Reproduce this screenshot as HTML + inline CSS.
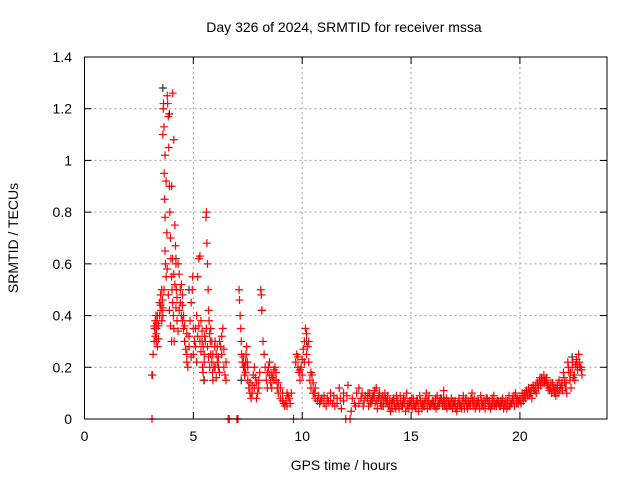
<!DOCTYPE html>
<html><head><meta charset="utf-8"><style>
body{margin:0;background:#fff}
svg{display:block;font-family:"Liberation Sans",sans-serif}
</style></head><body>
<svg id="chart" width="640" height="480">
<text x="344" y="32" font-size="14" text-anchor="middle">Day 326 of 2024, SRMTID for receiver mssa</text>
<text x="344" y="470" font-size="14" text-anchor="middle">GPS time / hours</text>
<text transform="translate(18,238) rotate(-90)" font-size="14" text-anchor="middle">SRMTID / TECUs</text>
<g id="grid"></g><g id="ticks"></g><g id="marks"></g>
<rect x="84.5" y="57" width="522.5" height="362" fill="none" stroke="#000" stroke-width="1"/>
</svg>
<script>
const xTicks=[0,5,10,15,20];
const yTicks=[0,0.2,0.4,0.6,0.8,1,1.2,1.4];
const yTickLabels=["0","0.2","0.4","0.6","0.8","1","1.2","1.4"];
const redEarly=[[3.1,0],[3.12,.17],[3.15,.25],[3.2,.3],[3.22,.35],[3.25,.38],[3.28,.4],[3.3,.33],[3.32,.37],[3.35,.28],[3.4,.31],
[3.45,.45],[3.5,.48],[3.52,.42],[3.55,.5],[3.58,.46],[3.6,.4],[3.6,1.1],[3.62,1.2],[3.63,1.22],[3.65,1.13],[3.66,.95],[3.68,.85],[3.7,.78],[3.7,.65],[3.72,.6],[3.75,.55],
[3.8,1.25],[3.82,1.22],[3.85,1.17],[3.87,1.05],[3.9,.9],[3.92,.8],[3.95,.7],[3.97,.62],[4.0,.55],[4.02,.5],[4.05,.45],[4.08,.4],[4.1,.35],[4.12,.3],[4.0,.9],[4.15,.75],[4.18,.67],[4.2,.6],[4.22,.5],[4.25,.47],[4.05,1.26],[4.1,1.08],
[4.3,.6],[4.35,.56],[4.4,.45],[4.45,.4],[4.5,.38],[4.55,.35],[4.6,.3],[4.65,.27],[4.7,.22],[4.75,.2],[4.8,.32],[4.85,.38],[4.9,.45],[4.95,.5],[4.97,.55],[4.5,.48],[4.6,.3],[4.7,.25],
[5.0,.25],[5.05,.3],[5.1,.35],[5.15,.4],[5.2,.55],[5.25,.62],[5.3,.63],[5.35,.38],[5.4,.3],[5.42,.2],[5.45,.18],[5.48,.15],[5.5,.25],[5.52,.32],
[5.58,.78],[5.6,.8],[5.62,.68],[5.65,.6],[5.68,.5],[5.7,.42],[5.72,.38],[5.75,.33],[5.78,.3],[5.8,.25],[5.85,.22],[5.88,.18],[5.9,.15],[5.95,.2],[5.98,.28],
[6.0,.3],[6.05,.25],[6.1,.22],[6.15,.2],[6.2,.18],[6.25,.28],[6.3,.32],[6.35,.35],[6.4,.2],[6.45,.17],[6.5,.15],[6.6,0],[6.65,0],[7.0,0],[7.05,0],
[7.1,.5],[7.12,.46],[7.15,.4],[7.18,.35],[7.2,.3],[7.22,.25],[7.25,.22],[7.3,.2],[7.35,.2],[7.4,.18],[7.42,.25],[7.45,.28],[7.48,.22],
[7.5,.15],[7.55,.12],[7.6,.1],[7.65,.08],[7.7,.13],[7.75,.17],[7.8,.2],[7.85,.16],[7.9,.14],[7.95,.1],[8.0,.12],
[8.1,.5],[8.12,.48],[8.15,.42],[8.2,.3],[8.25,.25],[8.3,.2],
[8.35,.15],[8.4,.18],[8.45,.2],[8.5,.17],[8.55,.14],[8.6,.12],[8.65,.16],[8.7,.19],[8.75,.2],[8.8,.15],[8.85,.12],[8.9,.1],[9.0,.08],[9.1,.07],[9.2,.05],[9.25,.07],[9.3,.1],[9.4,.08],[9.45,.06],[9.6,0],
[9.7,.22],[9.75,.25],[9.8,.2],[9.85,.18],[9.9,.15],[9.95,.2],[10.0,.23],[10.1,.3],[10.15,.35],[10.2,.33],[10.25,.28],[10.3,.22],[10.35,.15],[10.4,.12],[10.45,.17],[10.5,.14],[10.55,.1],[10.6,.08],
[10.7,.07],[10.8,.06],[10.9,.08],[11.0,.09],[11.1,.05],[11.2,.07],[11.3,.1],[11.4,.06],[11.5,.05],[11.6,.08],[11.7,.12],[11.8,.04],[11.9,.07],[12.0,0],[12.05,.09],[12.1,.13],[12.2,0],[12.25,.03],[12.4,.06],[12.5,.1],[12.6,.12],[12.7,.08],[12.8,.05],[12.9,.09]];
const redEarly2=[[3.2,.36],[3.25,.32],[3.3,.3],[3.35,.4],[3.4,.36],[3.45,.4],[3.5,.44],[3.55,.38],[3.6,.43],[3.65,.5],[3.7,1.02],[3.75,.92],[3.78,.72],[3.8,.58],[3.85,.48],[3.9,.42],[3.95,.36],[4.0,.3],[4.05,.62],[4.1,.56],[4.15,.52],[4.2,.43],[4.25,.38],[4.3,.34],[4.35,.42],[4.4,.5],[4.45,.52],[4.5,.44],[4.55,.4],[4.6,.36],[4.7,.33],[4.8,.28],[4.9,.24],[5.0,.35],[5.1,.28],[5.15,.22],[5.2,.32],[5.25,.36],[5.3,.3],[5.35,.26],[5.4,.34],[5.45,.28],[5.5,.22],[5.55,.3],[5.6,.35],[5.65,.28],[5.7,.24],[5.75,.2],[5.8,.35],[5.85,.3],[5.9,.25],[6.0,.2],[6.05,.16],[6.1,.28],[6.15,.24],[6.2,.3],[6.3,.25],[6.4,.27],[6.5,.22],[7.3,.24],[7.35,.17],[7.4,.22],[7.5,.2],[7.6,.14],[7.7,.1],[7.8,.12],[7.9,.08],[8.0,.15],[8.05,.18],[8.4,.12],[8.5,.22],[8.6,.17],[8.7,.15],[8.8,.18],[8.9,.14],[9.0,.12],[9.1,.1],[9.15,.06],[9.3,.05],[9.35,.09],[9.5,.1],[9.8,.24],[9.9,.19],[10.0,.17],[10.05,.27],[10.1,.22],[10.2,.25],[10.3,.3],[10.4,.18],[10.5,.1],[10.6,.12],[10.75,.09],[10.85,.07],[11.0,.06],[11.15,.08],[11.3,.07],[11.45,.09],[11.6,.06],[11.75,.08],[11.9,.1],[12.3,.08],[12.45,.05],[12.6,.06],[12.75,.1],[12.85,.07]];
const lateStart=[13,14,15,16,17,18,19,20,21,22];
const lateVals=[
[.08,.1,.07,.09,.12,.08,.06,.09,.1,.07],
[.05,.06,.08,.04,.07,.09,.05,.06,.1,.04],
[.06,.08,.05,.07,.09,.04,.06,.1,.07,.05],
[.07,.05,.09,.06,.08,.11,.05,.07,.06,.04],
[.06,.03,.08,.05,.09,.07,.04,.06,.1,.08],
[.05,.07,.09,.06,.04,.08,.07,.05,.09,.06],
[.07,.05,.08,.06,.04,.09,.06,.07,.1,.08],
[.08,.1,.09,.11,.12,.1,.13,.11,.14,.15],
[.16,.17,.15,.13,.12,.14,.1,.12,.15,.13],
[.18,.12,.22,.15,.2,.17,.23,.25,.2]];
const lateVals2=[
[.05,.07,.09,.06,.04,.1,.05,.07,.06,.05],
[.03,.07,.05,.06,.04,.05,.08,.03,.06,.07],
[.04,.05,.07,.03,.06,.05,.08,.04,.05,.06],
[.05,.04,.06,.08,.05,.07,.04,.05,.08,.06],
[.04,.06,.05,.07,.04,.05,.06,.08,.05,.04],
[.06,.04,.05,.07,.08,.05,.04,.06,.05,.07],
[.05,.06,.04,.07,.05,.06,.08,.05,.06,.07],
[.06,.07,.08,.09,.1,.08,.11,.1,.12,.13],
[.14,.15,.13,.11,.1,.12,.09,.1,.12,.11],
[.14,.1,.18,.12,.16,.21,.19,.2,.17]];
const lateVals3=[
[.1,.06,.08,.11,.07,.09,.08,.05,.08,.09],
[.07,.04,.06,.09,.05,.07,.06,.08,.05,.06],
[.08,.06,.04,.06,.07,.06,.05,.07,.09,.06],
[.06,.08,.05,.07,.06,.05,.08,.06,.05,.07],
[.07,.05,.06,.04,.06,.08,.07,.05,.07,.06],
[.07,.06,.07,.05,.06,.07,.05,.08,.06,.05],
[.06,.07,.06,.05,.07,.05,.06,.09,.08,.06],
[.07,.09,.1,.1,.09,.12,.12,.13,.13,.16],
[.15,.14,.16,.12,.14,.11,.12,.13,.11,.14],
[.16,.14,.2,.18,.22,.15,.21,.22,.19]];
const blackPts=[[3.1,.17],[3.3,.35],[3.6,1.28],[3.9,1.18],[4.2,.62],[4.8,.5],[5.5,.15],[7.2,.15],[8.15,.42],[10.2,.3],[22.4,.24],[16.5,.08]];

const X0=84.5,KX=522.5/24,Y0=419,KY=362/1.4;
const sx=h=>X0+h*KX, sy=v=>Y0-v*KY;
const NS="http://www.w3.org/2000/svg";
const grid=document.getElementById('grid'),ticks=document.getElementById('ticks'),marks=document.getElementById('marks');
function mk(tag,a,parent){const e=document.createElementNS(NS,tag);for(const k in a)e.setAttribute(k,a[k]);parent.appendChild(e);return e;}
xTicks.forEach(t=>{const x=sx(t);
 if(t>0){const g=mk('line',{x1:x,y1:57,x2:x,y2:419,stroke:'#a0a0a0','stroke-dasharray':'2,3'},grid);
 
 }
 mk('line',{x1:x,y1:419,x2:x,y2:412,stroke:'#000'},ticks);mk('line',{x1:x,y1:57,x2:x,y2:64,stroke:'#000'},ticks);
 const l=mk('text',{x:x,y:441,'font-size':14,'text-anchor':'middle'},ticks);l.textContent=t;
 
 });
yTicks.forEach((t,i)=>{const y=sy(t);
 if(i>0&&i<yTicks.length-1){const g=mk('line',{x1:84.5,y1:y,x2:607,y2:y,stroke:'#a0a0a0','stroke-dasharray':'2,3'},grid);
 
 }
 mk('line',{x1:84.5,y1:y,x2:91.5,y2:y,stroke:'#000'},ticks);mk('line',{x1:607,y1:y,x2:600,y2:y,stroke:'#000'},ticks);
 const l=mk('text',{x:72,y:y+5,'font-size':14,'text-anchor':'end'},ticks);l.textContent=yTickLabels[i];
 
 });
function plus(h,v,col,name){const x=sx(h),y=sy(v);
 const p=mk('path',{d:`M${x-4},${y}h8M${x},${y-4}v8`,stroke:col,'stroke-width':1.2,fill:'none'},marks);
 
 }
blackPts.forEach(p=>plus(p[0],p[1],'#333','black-point'));
redEarly.forEach(p=>plus(p[0],p[1],'#ff0000','red-point'));
redEarly2.forEach(p=>plus(p[0],p[1],'#ff0000','red-point'));
lateStart.forEach((s,i)=>{lateVals[i].forEach((v,j)=>plus(s+j*0.1,v,'#ff0000','red-point'));
 lateVals2[i].forEach((v,j)=>plus(s+j*0.1+0.05,v,'#ff0000','red-point'));
 lateVals3[i].forEach((v,j)=>plus(s+j*0.1+0.025,v,'#ff0000','red-point'));});
</script>
</body></html>
